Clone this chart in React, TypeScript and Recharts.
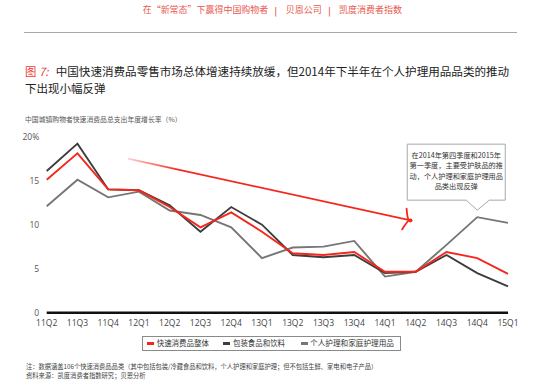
import { useLayoutEffect, useRef, useState, type CSSProperties, type ReactNode } from "react"
import {
  LineChart,
  Line,
  XAxis,
  YAxis,
  ReferenceLine,
  ReferenceDot,
} from "recharts"

const quarters = [
  "11Q2", "11Q3", "11Q4", "12Q1", "12Q2", "12Q3", "12Q4", "13Q1",
  "13Q2", "13Q3", "13Q4", "14Q1", "14Q2", "14Q3", "14Q4", "15Q1",
]

// 中国城镇购物者快速消费品总支出年度增长率（%）
const overall = [15.1, 18.1, 14.0, 13.9, 12.0, 9.7, 11.4, 9.2, 6.75, 6.55, 6.9, 4.65, 4.65, 6.9, 6.2, 4.4]
const foodBev = [16.1, 19.2, 14.0, 13.9, 12.2, 9.2, 12.0, 10.0, 6.55, 6.3, 6.55, 4.5, 4.65, 6.55, 4.5, 3.0]
const personalHome = [12.1, 15.1, 13.1, 13.75, 11.6, 11.1, 9.7, 6.2, 7.4, 7.5, 8.15, 4.1, 4.65, 7.7, 10.85, 10.2]

const yTicks = [0, 5, 10, 15, 20]

const seriesNames = ["快速消费品整体", "包装食品和饮料", "个人护理和家庭护理用品"]
const seriesColors = ["#f5271d", "#3d3d3d", "#767676"]

// trend arrow, in data space (quarter index, %)
const arrowFrom = { x: 2.64, y: 17.5 }
const arrowTo = { x: 11.87, y: 10.45 }

const calloutLines = [
  "在2014年第四季度和2015年",
  "第一季度，主要受护肤品的推",
  "动，个人护理和家庭护理用品",
  "品类出现反弹",
]

const data = quarters.map((q, i) => ({
  idx: i,
  name: q,
  overall: overall[i],
  foodBev: foodBev[i],
  personalHome: personalHome[i],
}))

const cjk = '"Noto Sans CJK SC", "Noto Sans", sans-serif'
const latin = '"Open Sans", "DejaVu Sans", sans-serif'

// single line of text, font size adjusted so the line is `width` px wide
function FitText(props: {
  x: number
  cy: number
  width: number
  base: number
  lh?: number
  style?: CSSProperties
  children: ReactNode
}) {
  const { x, cy, width, base, style, children } = props
  const lh = props.lh ?? 12
  const ref = useRef<HTMLSpanElement>(null)
  const [size, setSize] = useState(base)
  useLayoutEffect(() => {
    const el = ref.current
    if (!el) return
    const w = el.getBoundingClientRect().width
    if (w > 0) {
      const next = (size * width) / w
      if (Math.abs(next - size) > 0.02) setSize(next)
    }
  }, [size, width])
  return (
    <div
      style={{
        position: "absolute",
        left: x,
        top: cy - lh / 2,
        height: lh,
        lineHeight: `${lh}px`,
        whiteSpace: "nowrap",
        ...style,
        fontSize: size,
      }}
    >
      <span ref={ref}>{children}</span>
    </div>
  )
}

function TrendArrow(props: any) {
  const { x1, y1, x2, y2 } = props
  if ([x1, y1, x2, y2].some((v) => typeof v !== "number")) return <g />
  const ang = Math.atan2(y2 - y1, x2 - x1)
  const len = 13
  const a1 = ang + Math.PI - 0.95
  const a2 = ang + Math.PI + 0.95
  const p1x = x2 + Math.cos(a1) * len
  const p1y = y2 + Math.sin(a1) * len
  const p2x = x2 + Math.cos(a2) * len
  const p2y = y2 + Math.sin(a2) * len
  return (
    <g>
      <defs>
        <linearGradient id="arrowGrad" gradientUnits="userSpaceOnUse" x1={x1} y1={y1} x2={x2} y2={y2}>
          <stop offset="0" stopColor="#ffd2d0" />
          <stop offset="0.18" stopColor="#f5271d" />
          <stop offset="1" stopColor="#f5271d" />
        </linearGradient>
      </defs>
      <line x1={x1} y1={y1} x2={x2} y2={y2} stroke="url(#arrowGrad)" strokeWidth={1.8} />
      <path
        d={`M${p1x},${p1y} Q${x2 - 1},${y2 - 5} ${x2},${y2} Q${x2 - 4},${y2 + 4} ${p2x},${p2y}`}
        fill="none"
        stroke="#f5271d"
        strokeWidth={1.8}
        strokeLinecap="round"
      />
    </g>
  )
}

function Callout(props: any) {
  const { cx, cy } = props
  if (typeof cx !== "number" || typeof cy !== "number") return <g />
  const tipY = cy - 7
  const bottom = tipY - 10
  const top = bottom - 56
  const left = cx - 70
  const right = cx + 28
  const midX = (left + right) / 2
  const d = `M${left},${top} L${right},${top} L${right},${bottom} L${cx + 12},${bottom} L${cx},${tipY} L${cx - 11},${bottom} L${left},${bottom} Z`
  return (
    <g>
      <path d={d} fill="#ffffff" stroke="#a8a8a8" strokeWidth={1} />
      {calloutLines.map((t, i) => (
        <text
          key={t}
          x={midX}
          y={top + 13.5 + i * 10.6}
          textAnchor="middle"
          fontSize={7.2}
          fill="#333"
          fontFamily={cjk}
        >
          {t}
        </text>
      ))}
    </g>
  )
}

export default function App() {
  const headRed = "#e8584f"
  return (
    <div
      style={{
        position: "absolute",
        left: 0,
        top: 0,
        width: 554,
        height: 385,
        background: "#fff",
        fontFamily: cjk,
        overflow: "hidden",
      }}
    >
      {/* running header */}
      <FitText x={142.7} cy={9.5} width={125.6} base={9} style={{ color: headRed }}>
        在“新常态”下赢得中国购物者
      </FitText>
      <FitText x={274.5} cy={9.5} width={2.5} base={9} style={{ color: headRed, fontWeight: 700 }}>
        |
      </FitText>
      <FitText x={285.7} cy={9.5} width={36} base={9} style={{ color: headRed }}>
        贝恩公司
      </FitText>
      <FitText x={328.2} cy={9.5} width={2.5} base={9} style={{ color: headRed, fontWeight: 700 }}>
        |
      </FitText>
      <FitText x={339} cy={9.5} width={63} base={9} style={{ color: headRed }}>
        凯度消费者指数
      </FitText>
      <div
        style={{
          position: "absolute",
          top: 31.5,
          left: 24,
          width: 493,
          height: 0,
          borderTop: "1.3px solid #a9a9a9",
        }}
      />

      {/* title */}
      <div
        style={{
          position: "absolute",
          left: 25,
          top: 70.7 - 9,
          height: 18,
          lineHeight: "18px",
          fontSize: 11.4,
          color: "#ee3a32",
          whiteSpace: "nowrap",
        }}
      >
        图 <span style={{ fontStyle: "italic" }}>7:</span>
      </div>
      <FitText x={55.7} cy={70.7} width={454} base={11} lh={18} style={{ color: "#222" }}>
        中国快速消费品零售市场总体增速持续放缓，但2014年下半年在个人护理用品品类的推动
      </FitText>
      <FitText x={25} cy={88.3} width={80.5} base={11} lh={18} style={{ color: "#222" }}>
        下出现小幅反弹
      </FitText>
      <FitText x={25} cy={119} width={156.7} base={7} style={{ color: "#555" }}>
        中国城镇购物者快速消费品总支出年度增长率（%）
      </FitText>

      <div style={{ position: "absolute", left: 0, top: 0 }}>
        <LineChart
          width={554}
          height={385}
          data={data}
          margin={{ top: 136.6, right: 46, bottom: 42.3, left: 6.7 }}
        >
          <XAxis
            dataKey="idx"
            type="number"
            domain={[0, quarters.length - 1]}
            ticks={quarters.map((_, i) => i)}
            tickFormatter={(i: number) => quarters[i] ?? ""}
            interval={0}
            height={30}
            axisLine={{ stroke: "#111", strokeWidth: 2.6 }}
            tickLine={false}
            tickSize={0}
            tickMargin={7}
            tick={{ fontSize: 8.5, fill: "#444", fontFamily: latin }}
          />
          <YAxis
            domain={[0, 20]}
            ticks={yTicks}
            width={40}
            axisLine={false}
            tickLine={false}
            tickSize={0}
            tickMargin={7.5}
            tickFormatter={(v: number) => (v === 20 ? "20%" : String(v))}
            tick={{ fontSize: 8.5, fill: "#555", fontFamily: latin }}
          />
          <Line
            dataKey="personalHome"
            name={seriesNames[2]}
            stroke={seriesColors[2]}
            strokeWidth={1.9}
            dot={false}
            isAnimationActive={false}
          />
          <Line
            dataKey="foodBev"
            name={seriesNames[1]}
            stroke={seriesColors[1]}
            strokeWidth={1.9}
            dot={false}
            isAnimationActive={false}
          />
          <Line
            dataKey="overall"
            name={seriesNames[0]}
            stroke={seriesColors[0]}
            strokeWidth={1.9}
            dot={false}
            isAnimationActive={false}
          />
          <ReferenceLine
            segment={[arrowFrom, arrowTo]}
            ifOverflow="visible"
            shape={TrendArrow}
          />
          <ReferenceDot
            x={14}
            y={personalHome[14]}
            ifOverflow="visible"
            shape={Callout}
          />
        </LineChart>
      </div>

      {/* legend */}
      <div
        style={{
          position: "absolute",
          left: 141.5,
          top: 336,
          width: 259,
          height: 14.7,
          boxSizing: "border-box",
          border: "1px solid #8a8a8a",
        }}
      />
      {seriesNames.map((n, i) => {
        const swatchX = [147, 223, 300.7][i]
        const textX = [156.7, 233, 310][i]
        const textW = [52.3, 52, 84][i]
        return (
          <div key={n}>
            <div
              style={{
                position: "absolute",
                left: swatchX,
                top: 342.1,
                width: 7,
                height: 2.6,
                background: seriesColors[i],
              }}
            />
            <FitText x={textX} cy={343.4} width={textW} base={7.5} style={{ color: "#333" }}>
              {n}
            </FitText>
          </div>
        )
      })}

      {/* notes */}
      <FitText x={26} cy={366.7} width={352} base={6.4} lh={9} style={{ color: "#444" }}>
        注：数据涵盖106个快速消费品品类（其中包括包装/冷藏食品和饮料，个人护理和家庭护理；但不包括生鲜、家电和电子产品）
      </FitText>
      <FitText x={26} cy={375.7} width={119.7} base={6.4} lh={9} style={{ color: "#444" }}>
        资料来源：凯度消费者指数研究；贝恩分析
      </FitText>
    </div>
  )
}
